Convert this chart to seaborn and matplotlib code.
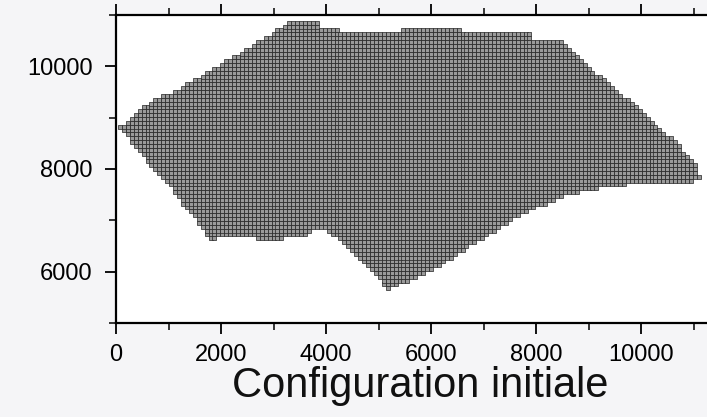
import matplotlib
matplotlib.use("Agg")
import matplotlib.pyplot as plt
from matplotlib.path import Path
from matplotlib.ticker import MultipleLocator
import numpy as np
import pandas as pd
import seaborn as sns

# outline of the meshed domain (m), clockwise from the western tip
outline_x = [40, 360, 740, 1260, 1730, 2300, 2740, 3160, 3260, 3850, 3850, 4250,
             4250, 5450, 5450, 5540, 5540, 6590, 6590, 7920, 7920, 8500, 8705,
             9086, 9467, 9924, 10171, 10686, 11086, 11105, 10895, 9695, 9695,
             9219, 8552, 7695, 6933, 6171, 5600, 5219, 5124, 5029, 4648, 4267,
             3886, 3695, 3638, 3257, 3067, 2648, 2648, 2038, 1790, 1695, 1543,
             1276, 1086, 648, 267]
outline_y = [8800, 9090, 9350, 9600, 9890, 10220, 10520, 10750, 10870, 10870,
             10770, 10770, 10690, 10690, 10770, 10770, 10710, 10710, 10650,
             10650, 10520, 10500, 10282, 9931, 9580, 9210, 8957, 8508, 8040,
             7826, 7729, 7729, 7631, 7631, 7495, 7105, 6618, 6130, 5838, 5701,
             5643, 5838, 6228, 6618, 6871, 6774, 6715, 6676, 6579, 6657, 6715,
             6715, 6579, 6715, 7008, 7300, 7592, 8080, 8567]
node_spacing = 75
x_ticks = [0, 2000, 4000, 6000, 8000, 10000]
y_ticks = [6000, 8000, 10000]

sns.set_theme(style="ticks")
plt.rcParams["font.family"] = ["Liberation Sans", "DejaVu Sans"]

# regular mesh nodes inside the outline
xs = np.arange(0, 11500, node_spacing)
ys = np.arange(5000, 11000, node_spacing)
gx, gy = np.meshgrid(xs, ys)
pts = np.column_stack([gx.ravel(), gy.ravel()])
inside = Path(np.column_stack([outline_x, outline_y])).contains_points(pts)
nodes = pd.DataFrame(pts[inside], columns=["x", "y"])

fig = plt.figure(figsize=(7.07, 4.17), dpi=100, facecolor="#f5f5f7")
ax = fig.add_axes([116 / 707, 94 / 417, 630 / 707, 308 / 417])
ax.set_facecolor("white")
sns.scatterplot(data=nodes, x="x", y="y", marker="s", s=7, color="#9a9a9a",
                edgecolor="#222222", linewidth=0.5, ax=ax, legend=False)

ax.set_xlim(0, 12000)
ax.set_ylim(5000, 11000)
ax.set_xticks(x_ticks)
ax.set_yticks(y_ticks)
ax.xaxis.set_minor_locator(MultipleLocator(1000))
ax.yaxis.set_minor_locator(MultipleLocator(1000))
ax.tick_params(axis="both", which="major", direction="out", length=8, width=1.3,
               labelsize=17, colors="black")
ax.tick_params(axis="both", which="minor", direction="out", length=5, width=1.3)
ax.tick_params(axis="x", which="both", top=True, pad=7)
ax.tick_params(axis="y", which="major", pad=9)
for sp in ax.spines.values():
    sp.set_linewidth(1.6)
    sp.set_color("black")

ax.set_ylabel("")
ax.set_xlabel("Configuration initiale", fontsize=30, color="#111111")
ax.xaxis.set_label_coords(0.4825, -0.14)

fig.savefig("out.png", dpi=100, facecolor=fig.get_facecolor())
